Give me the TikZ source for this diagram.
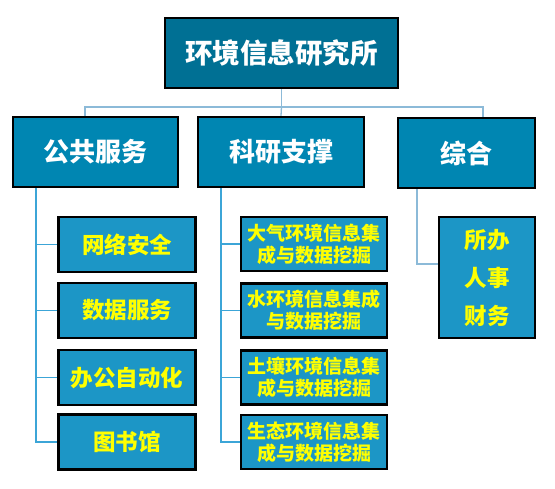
\documentclass[tikz,border=0pt]{standalone}
\usepackage{fontspec}
\setmainfont{Noto Sans CJK SC}
\definecolor{topfill}{RGB}{0,112,148}
\definecolor{midfill}{RGB}{0,134,178}
\definecolor{leaffill}{RGB}{28,150,198}
\definecolor{busline}{RGB}{140,186,216}
\definecolor{leafline}{RGB}{60,165,215}
\definecolor{leaftext}{RGB}{255,255,0}
\begin{document}
\begin{tikzpicture}[x=1pt,y=-1pt,
  boxbase/.style={draw=black,line width=2.2pt,inner sep=0pt,align=center,font=\bfseries},
  topbox/.style={boxbase,fill=topfill,text=white,font=\bfseries\fontsize{27.5}{30}\selectfont},
  midbox/.style={boxbase,fill=midfill,text=white,font=\bfseries\fontsize{26}{28}\selectfont},
  leafbox/.style={boxbase,fill=leaffill,text=leaftext,font=\bfseries\fontsize{22.5}{25}\selectfont},
  leafsmall/.style={boxbase,fill=leaffill,text=leaftext,font=\bfseries\fontsize{19}{22}\selectfont},
  bus/.style={draw=busline,line width=1.3pt},
  twig/.style={draw=leafline,line width=1.3pt}]
\useasboundingbox (0,0) rectangle (555,488);
\fill[white] (0,0) rectangle (555,488);
% top
\node[topbox,minimum width=233pt,minimum height=70pt] (top) at (281.5,53) {环境信息研究所};
% level 1
\node[midbox,minimum width=165pt,minimum height=70pt] (pub) at (95.5,152) {公共服务};
\node[midbox,minimum width=166pt,minimum height=70pt] (sci) at (281,152) {科研支撑};
\node[midbox,minimum width=137pt,minimum height=70pt] (gen) at (466.5,153) {综合};
% leaves left
\node[leafbox,minimum width=137pt,minimum height=55pt] (p1) at (127,244.5) {网络安全};
\node[leafbox,minimum width=137pt,minimum height=55pt] (p2) at (127,310.5) {数据服务};
\node[leafbox,minimum width=137pt,minimum height=55pt] (p3) at (127,377.5) {办公自动化};
\node[leafbox,minimum width=137pt,minimum height=55pt] (p4) at (127,442) {图书馆};
% leaves middle
\node[leafsmall,minimum width=146pt,minimum height=54pt] (s1) at (314,244) {大气环境信息集\\成与数据挖掘};
\node[leafsmall,minimum width=146pt,minimum height=54pt] (s2) at (314,310.5) {水环境信息集成\\与数据挖掘};
\node[leafsmall,minimum width=146pt,minimum height=54pt] (s3) at (314,377.5) {土壤环境信息集\\成与数据挖掘};
\node[leafsmall,minimum width=146pt,minimum height=54pt] (s4) at (314,442) {生态环境信息集\\成与数据挖掘};
% leaf right
\node[boxbase,fill=leaffill,text=leaftext,font=\bfseries\fontsize{22.5}{38}\selectfont,
  minimum width=96pt,minimum height=121pt] (g1) at (487,277.5) {所办\\人事\\财务};
% bus connectors
\coordinate (busL) at (85,107);
\coordinate (busM) at (281.5,107);
\coordinate (busR) at (483,107);
\draw[bus] (top.south) -- (busM);
\draw[bus] (pub.north -| busL) -- (busL) -- (busR) -- (gen.north -| busR);
\draw[bus] (busM) -- (sci.north);
% left twigs
\coordinate (pl) at (36,0);
\draw[twig] (pub.south -| pl) -- (p4.west -| pl) -- (p4.west);
\draw[twig] (p1.west -| pl) -- (p1.west);
\draw[twig] (p2.west -| pl) -- (p2.west);
\draw[twig] (p3.west -| pl) -- (p3.west);
% middle twigs
\coordinate (sl) at (221,0);
\draw[twig] (sci.south -| sl) -- (s4.west -| sl) -- (s4.west);
\draw[twig] (s1.west -| sl) -- (s1.west);
\draw[twig] (s2.west -| sl) -- (s2.west);
\draw[twig] (s3.west -| sl) -- (s3.west);
% right twig
\coordinate (gl) at (417,264);
\draw[bus] (gen.south -| gl) -- (gl) -- (gl -| g1.west);
\end{tikzpicture}
\end{document}
